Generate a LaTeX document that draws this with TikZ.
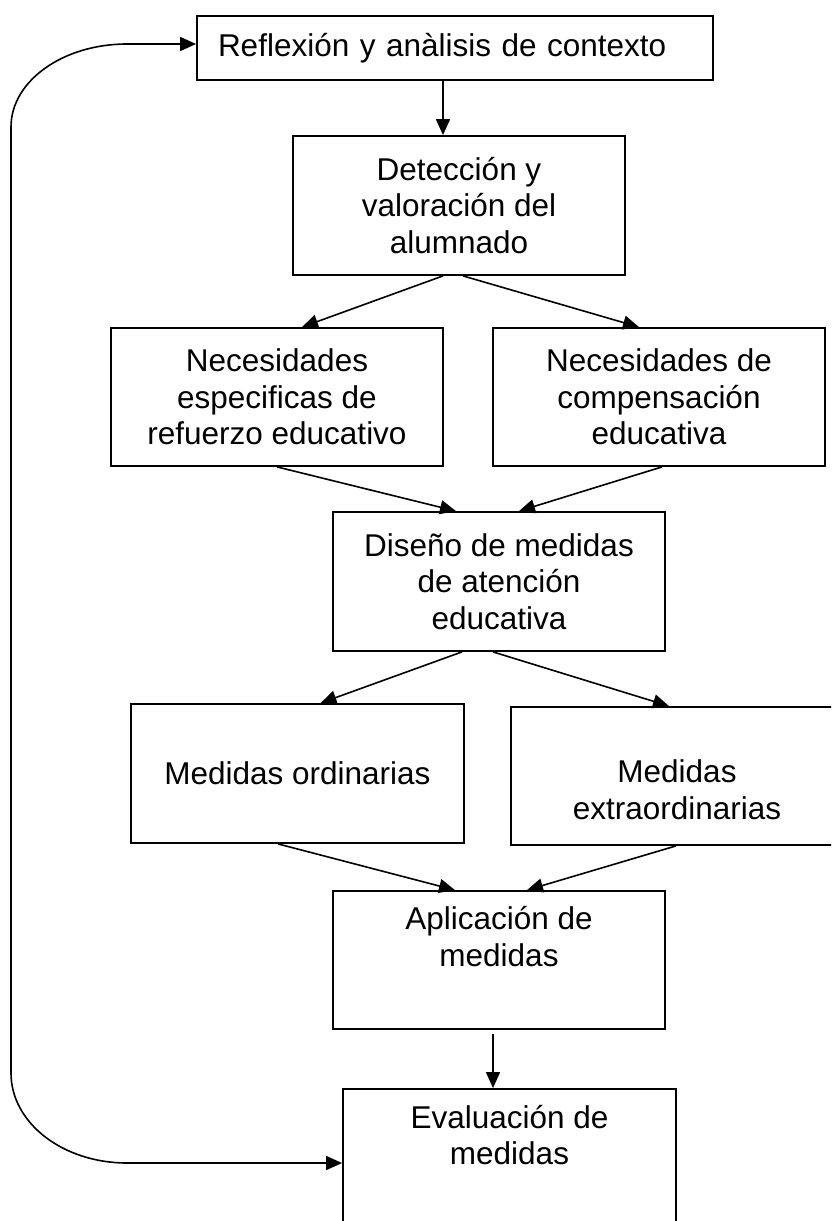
\documentclass[tikz,border=0pt]{standalone}
\usepackage{fontspec}
\setmainfont{Liberation Sans}
\usetikzlibrary{arrows.meta}

\begin{document}
\begin{tikzpicture}[x=1pt, y=-1pt,
    caja/.style={draw, line width=1.8pt, minimum width=332pt, minimum height=138pt, inner sep=0pt, align=center, font=\fontsize{31.5}{36.5}\selectfont},
    flecha/.style={line width=1.6pt, -{Triangle[length=16pt, width=14pt]}}]
    \useasboundingbox (0,0) rectangle (831,1221);
    \clip (0,0) rectangle (831,1221);

    \node[caja, minimum width=516pt, minimum height=64pt, text width=474pt, inner xsep=21pt, align=left] (refl) at (455,48) {Reflexión y anàlisis de contexto};
    \node[caja, minimum height=139pt] (detec) at (459,205.5) {Detección y\\valoración del\\alumnado};

    \node[caja] (espec) at (277,397) {Necesidades\\especificas de\\refuerzo educativo};
    \node[caja] (compen) at (659,397) {Necesidades de\\compensación\\educativa};
    \node[caja, minimum height=139pt] (diseno) at (499,581.5) {Diseño de medidas\\de atención\\educativa};

    \node[caja, minimum width=333pt, minimum height=139pt] (ordin) at (297.5,773.5) {Medidas ordinarias};
    \node[caja] (extra) at (677,776) {\rule{0pt}{14pt}\\Medidas\\extraordinarias};
    \node[caja] (aplic) at (499,960) {Aplicación de\\medidas\\\strut};
    \node[caja, minimum width=333pt, minimum height=139pt] (eval) at (509.5,1158.5) {Evaluación de\\medidas\\\strut};

    \draw[flecha] ([xshift=-12pt]refl.south) -- ([xshift=-16pt]detec.north);
    \draw[flecha] ([xshift=-16pt]detec.south) -- ([xshift=25pt]espec.north);
    \draw[flecha] ([xshift=4pt]detec.south) -- ([xshift=-20pt]compen.north);
    \draw[flecha] (espec.south) -- ([xshift=-43pt]diseno.north);
    \draw[flecha] ([xshift=3pt]compen.south) -- ([xshift=20pt]diseno.north);
    \draw[flecha] ([xshift=-37pt]diseno.south) -- ([xshift=23pt]ordin.north);
    \draw[flecha] ([xshift=-6pt]diseno.south) -- ([xshift=-8pt]extra.north);
    \draw[flecha] ([xshift=-19.5pt]ordin.south) -- ([xshift=-44pt]aplic.north);
    \draw[flecha] ([xshift=-1pt]extra.south) -- ([xshift=28pt]aplic.north);
    \draw[flecha] ([xshift=-6pt, yshift=-4pt]aplic.south) -- ([xshift=-16.5pt]eval.north);

    % vuelta de la evaluacion al inicio
    \draw[line width=1.6pt, {Triangle[length=16pt, width=14pt]}-{Triangle[length=16pt, width=14pt]}] ([yshift=-4.5pt]eval.west) -- (127,1163) .. controls (63,1163) and (11,1123) .. (11,1073) -- (11,127) .. controls (11,81) and (63,44) .. (127,44) -- ([yshift=4pt]refl.west);
\end{tikzpicture}
\end{document}
